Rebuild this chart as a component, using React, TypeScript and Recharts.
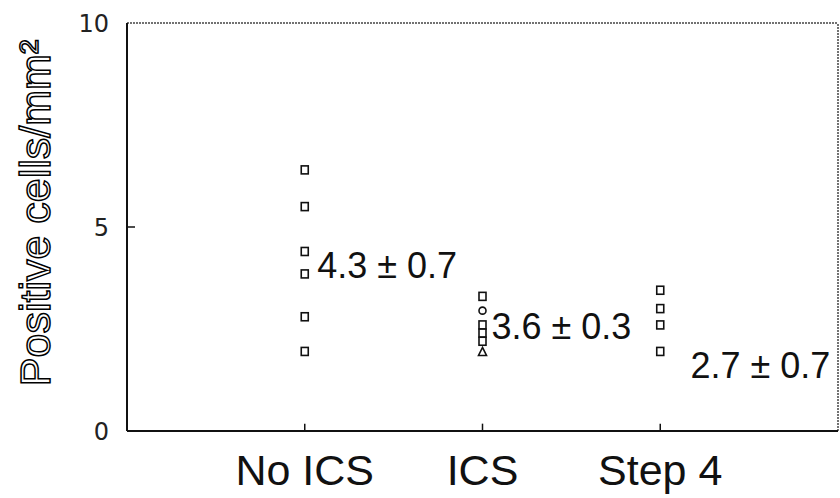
import { ScatterChart, Scatter, XAxis, YAxis, ReferenceLine } from "recharts"

// groups on the x axis (1, 2, 3)
const groups = ["No ICS", "ICS", "Step 4"]
const noIcsValues = [6.4, 5.5, 4.4, 3.85, 2.8, 1.95]
const icsValues = [3.3, 2.95, 2.6, 2.4, 2.2, 1.95]
const icsMarkers = ["square", "circle", "square", "square", "square", "triangle"]
const step4Values = [3.45, 3.0, 2.6, 1.95]
const meanLabels = ["4.3 \u00b1 0.7", "3.6 \u00b1 0.3", "2.7 \u00b1 0.7"]
const meanLabelX = [1.07, 2.05, 3.17]
const meanLabelY = [3.75, 2.25, 1.3]
const yTicks = [0, 5, 10]

const noIcs = noIcsValues.map(v => ({ x: 1, y: v, marker: "square" }))
const ics = icsValues.map((v, i) => ({ x: 2, y: v, marker: icsMarkers[i] }))
const step4 = step4Values.map(v => ({ x: 3, y: v, marker: "square" }))
const means = meanLabels.map((t, i) => ({ x: meanLabelX[i], y: meanLabelY[i], text: t }))

const Marker = (props: any) => {
    const { cx, cy, payload } = props
    if (payload.marker === "circle") {
        return <circle cx={cx} cy={cy} r={3.5} fill="#fff" stroke="#111" strokeWidth={1.6} />
    }
    if (payload.marker === "triangle") {
        return <path d={`M${cx},${cy - 4}L${cx + 4},${cy + 4}L${cx - 4},${cy + 4}Z`} fill="#fff" stroke="#111" strokeWidth={1.6} />
    }
    return <rect x={cx - 3.5} y={cy - 4} width={7} height={8} fill="#fff" stroke="#111" strokeWidth={1.6} />
}

const MeanText = (props: any) => {
    const { cx, cy, payload } = props
    return (
        <text x={cx} y={cy} fontSize={36} fontFamily="Liberation Sans" fill="#111">
            {payload.text}
        </text>
    )
}

const XTick = (props: any) => {
    const { x, y, payload } = props
    return (
        <text x={x} y={y + 52} textAnchor="middle" fontSize={43} fontFamily="Liberation Sans" fill="#111">
            {groups[payload.value - 1]}
        </text>
    )
}

const YTick = (props: any) => {
    const { x, y, payload } = props
    return (
        <text x={x - 16} y={y + 9} textAnchor="end" fontSize={24} fontFamily="DejaVu Sans" fill="#222">
            {payload.value}
        </text>
    )
}

const YLabel = (props: any) => {
    const { viewBox } = props
    const cx = viewBox.x - 17
    const cy = viewBox.y + viewBox.height / 2 - 14
    return (
        <text
            x={cx}
            y={cy}
            textAnchor="middle"
            transform={`rotate(-90, ${cx}, ${cy})`}
            fontSize={43}
            fontFamily="Liberation Sans"
            fill="#fff"
            stroke="#000"
            strokeWidth={1.5}
        >
            Positive cells/mm²
        </text>
    )
}

const App = () => {
    return (
        <div style={{ position: "absolute", left: 0, top: 0, background: "#fff" }}>
            <ScatterChart width={840} height={498} margin={{ top: 23, right: 2, bottom: 7, left: 67 }}>
                <XAxis
                    type="number"
                    dataKey="x"
                    domain={[0, 4]}
                    ticks={[1, 2, 3]}
                    height={60}
                    tickLine={false}
                    tickSize={0}
                    tick={<XTick />}
                    axisLine={{ stroke: "#111", strokeWidth: 2 }}
                    allowDataOverflow
                />
                <YAxis
                    type="number"
                    dataKey="y"
                    domain={[0, 10]}
                    ticks={yTicks}
                    width={60}
                    tickLine={false}
                    tickSize={0}
                    tick={<YTick />}
                    axisLine={{ stroke: "#111", strokeWidth: 2 }}
                    label={{ content: <YLabel /> }}
                    allowDataOverflow
                />
                <ReferenceLine y={10} stroke="#444" strokeWidth={1.5} strokeDasharray="2 1" />
                <ReferenceLine x={4} stroke="#444" strokeWidth={1.5} strokeDasharray="2 1" />
                <ReferenceLine segment={[{ x: 0, y: 5 }, { x: 0.045, y: 5 }]} stroke="#111" strokeWidth={1.5} />
                {[1, 2, 3].map(t => (
                    <ReferenceLine key={t} segment={[{ x: t, y: 0 }, { x: t, y: 0.18 }]} stroke="#111" strokeWidth={1.5} />
                ))}
                <Scatter data={noIcs} shape={<Marker />} isAnimationActive={false} />
                <Scatter data={ics} shape={<Marker />} isAnimationActive={false} />
                <Scatter data={step4} shape={<Marker />} isAnimationActive={false} />
                <Scatter data={means} shape={<MeanText />} isAnimationActive={false} />
            </ScatterChart>
        </div>
    )
}

export default App
